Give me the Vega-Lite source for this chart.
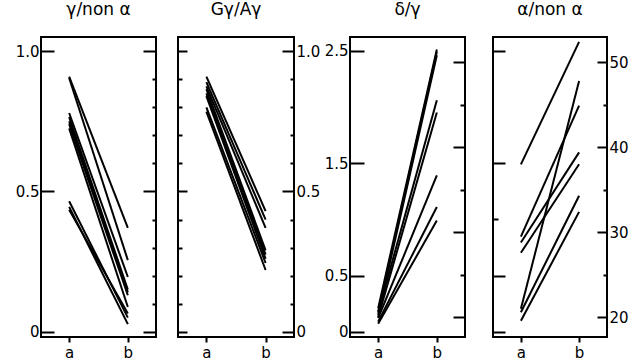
{
  "$schema": "https://vega.github.io/schema/vega-lite/v6.json",
  "background": "white",
  "padding": {"left": 14, "top": 0, "right": 5, "bottom": 0},
  "spacing": 2,
  "datasets": {
    "p1": [
      {"id": 1, "g": "a", "v": 0.91}, {"id": 1, "g": "b", "v": 0.37},
      {"id": 2, "g": "a", "v": 0.905}, {"id": 2, "g": "b", "v": 0.255},
      {"id": 3, "g": "a", "v": 0.78}, {"id": 3, "g": "b", "v": 0.195},
      {"id": 4, "g": "a", "v": 0.765}, {"id": 4, "g": "b", "v": 0.15},
      {"id": 5, "g": "a", "v": 0.75}, {"id": 5, "g": "b", "v": 0.14},
      {"id": 6, "g": "a", "v": 0.74}, {"id": 6, "g": "b", "v": 0.13},
      {"id": 7, "g": "a", "v": 0.725}, {"id": 7, "g": "b", "v": 0.088},
      {"id": 8, "g": "a", "v": 0.465}, {"id": 8, "g": "b", "v": 0.05},
      {"id": 9, "g": "a", "v": 0.445}, {"id": 9, "g": "b", "v": 0.027},
      {"id": 10, "g": "a", "v": 0.435}, {"id": 10, "g": "b", "v": 0.065}
    ],
    "p2": [
      {"id": 1, "g": "a", "v": 0.91}, {"id": 1, "g": "b", "v": 0.43},
      {"id": 2, "g": "a", "v": 0.89}, {"id": 2, "g": "b", "v": 0.4},
      {"id": 3, "g": "a", "v": 0.875}, {"id": 3, "g": "b", "v": 0.37},
      {"id": 4, "g": "a", "v": 0.865}, {"id": 4, "g": "b", "v": 0.29},
      {"id": 5, "g": "a", "v": 0.85}, {"id": 5, "g": "b", "v": 0.275},
      {"id": 6, "g": "a", "v": 0.84}, {"id": 6, "g": "b", "v": 0.26},
      {"id": 7, "g": "a", "v": 0.8}, {"id": 7, "g": "b", "v": 0.245},
      {"id": 8, "g": "a", "v": 0.785}, {"id": 8, "g": "b", "v": 0.22}
    ],
    "p3": [
      {"id": 1, "g": "a", "v": 0.21}, {"id": 1, "g": "b", "v": 2.51},
      {"id": 2, "g": "a", "v": 0.18}, {"id": 2, "g": "b", "v": 2.49},
      {"id": 3, "g": "a", "v": 0.15}, {"id": 3, "g": "b", "v": 2.46},
      {"id": 4, "g": "a", "v": 0.17}, {"id": 4, "g": "b", "v": 2.06},
      {"id": 5, "g": "a", "v": 0.13}, {"id": 5, "g": "b", "v": 1.95},
      {"id": 6, "g": "a", "v": 0.12}, {"id": 6, "g": "b", "v": 1.39},
      {"id": 7, "g": "a", "v": 0.09}, {"id": 7, "g": "b", "v": 1.11},
      {"id": 8, "g": "a", "v": 0.07}, {"id": 8, "g": "b", "v": 0.99}
    ],
    "p4": [
      {"id": 1, "g": "a", "v": 38.0}, {"id": 1, "g": "b", "v": 52.4},
      {"id": 2, "g": "a", "v": 21.0}, {"id": 2, "g": "b", "v": 47.8},
      {"id": 3, "g": "a", "v": 29.5}, {"id": 3, "g": "b", "v": 44.9},
      {"id": 4, "g": "a", "v": 28.8}, {"id": 4, "g": "b", "v": 39.4},
      {"id": 5, "g": "a", "v": 27.6}, {"id": 5, "g": "b", "v": 38.0},
      {"id": 6, "g": "a", "v": 20.6}, {"id": 6, "g": "b", "v": 34.3},
      {"id": 7, "g": "a", "v": 19.6}, {"id": 7, "g": "b", "v": 32.4}
    ]
  },
  "hconcat": [
    {
      "width": 115, "height": 300,
      "title": "γ/non α",
      "data": {"name": "p1"},
      "layer": [
        {
          "mark": {"type": "line", "color": "black", "strokeWidth": 2},
          "encoding": {
            "x": {"field": "g", "type": "nominal", "scale": {"type": "point", "padding": 0.48},
                  "axis": {"title": null, "labelAngle": 0, "tickSize": 5, "labelPadding": 3}},
            "y": {"field": "v", "type": "quantitative", "scale": {"domain": [-0.019, 1.051], "nice": false, "zero": false},
                  "axis": {"orient": "left", "title": null, "values": [0, 0.5, 1], "tickSize": -13, "labelPadding": 15,
                           "labelExpr": "datum.value == 0 ? '0' : format(datum.value, '.1f')"}},
            "detail": {"field": "id"}
          }
        },
        {
          "mark": {"type": "rule", "opacity": 0},
          "encoding": {
            "y": {"datum": 0, "type": "quantitative", "scale": {"domain": [-0.019, 1.051], "nice": false, "zero": false},
                  "axis": {"orient": "right", "title": null, "labels": false,
                           "values": [0, 0.1, 0.2, 0.3, 0.4, 0.5, 0.6, 0.7, 0.8, 0.9, 1.0],
                           "tickSize": {"condition": {"test": "abs(datum.value*2 - round(datum.value*2)) < 0.01", "value": -13}, "value": -4},
                           "minExtent": 8.6}}
          }
        }
      ],
      "resolve": {"axis": {"y": "independent"}}
    },
    {
      "width": 116, "height": 300,
      "title": "Gγ/Aγ",
      "data": {"name": "p2"},
      "layer": [
        {
          "mark": {"type": "line", "color": "black", "strokeWidth": 2},
          "encoding": {
            "x": {"field": "g", "type": "nominal", "scale": {"type": "point", "padding": 0.48},
                  "axis": {"title": null, "labelAngle": 0, "tickSize": 5, "labelPadding": 3}},
            "y": {"field": "v", "type": "quantitative", "scale": {"domain": [-0.019, 1.051], "nice": false, "zero": false},
                  "axis": {"orient": "left", "title": null, "labels": false,
                           "values": [0, 0.1, 0.2, 0.3, 0.4, 0.5, 0.6, 0.7, 0.8, 0.9, 1.0],
                           "tickSize": {"condition": {"test": "abs(datum.value*2 - round(datum.value*2)) < 0.01", "value": -9}, "value": -4},
                           "minExtent": 8.6}},
            "detail": {"field": "id"}
          }
        },
        {
          "mark": {"type": "rule", "opacity": 0},
          "encoding": {
            "y": {"datum": 0, "type": "quantitative", "scale": {"domain": [-0.019, 1.051], "nice": false, "zero": false},
                  "axis": {"orient": "right", "title": null,
                           "values": [0, 0.1, 0.2, 0.3, 0.4, 0.5, 0.6, 0.7, 0.8, 0.9, 1.0],
                           "tickSize": {"condition": {"test": "abs(datum.value*2 - round(datum.value*2)) < 0.01", "value": -12}, "value": -4},
                           "labelPadding": 14, "minExtent": 0,
                           "labelExpr": "abs(datum.value*2 - round(datum.value*2)) < 0.01 ? (datum.value == 0 ? '0' : format(datum.value, '.1f')) : ''"}}
          }
        }
      ],
      "resolve": {"axis": {"y": "independent"}}
    },
    {
      "width": 115, "height": 300,
      "title": "δ/γ",
      "data": {"name": "p3"},
      "layer": [
        {
          "mark": {"type": "line", "color": "black", "strokeWidth": 2},
          "encoding": {
            "x": {"field": "g", "type": "nominal", "scale": {"type": "point", "padding": 0.48},
                  "axis": {"title": null, "labelAngle": 0, "tickSize": 5, "labelPadding": 3}},
            "y": {"field": "v", "type": "quantitative", "scale": {"domain": [-0.047, 2.622], "nice": false, "zero": false},
                  "axis": {"orient": "left", "title": null, "values": [0, 0.5, 1.5, 2.5], "tickSize": -14, "labelPadding": 16,
                           "minExtent": 0,
                           "labelExpr": "datum.value == 0 ? '0' : format(datum.value, '.1f')"}},
            "detail": {"field": "id"}
          }
        },
        {
          "mark": {"type": "rule", "opacity": 0},
          "encoding": {
            "y": {"datum": 20, "type": "quantitative", "scale": {"domain": [17.68, 52.98], "nice": false, "zero": false},
                  "axis": {"orient": "right", "title": null, "labels": false,
                           "values": [20, 25, 30, 35, 40, 45, 50],
                           "tickSize": {"condition": {"test": "datum.value % 10 == 0", "value": -12}, "value": -5},
                           "minExtent": 11.6}}
          }
        }
      ],
      "resolve": {"scale": {"y": "independent"}, "axis": {"y": "independent"}}
    },
    {
      "width": 114, "height": 300,
      "title": "α/non α",
      "data": {"name": "p4"},
      "layer": [
        {
          "mark": {"type": "line", "color": "black", "strokeWidth": 2},
          "encoding": {
            "x": {"field": "g", "type": "nominal", "scale": {"type": "point", "padding": 0.48},
                  "axis": {"title": null, "labelAngle": 0, "tickSize": 5, "labelPadding": 3}},
            "y": {"field": "v", "type": "quantitative", "scale": {"domain": [17.68, 52.98], "nice": false, "zero": false},
                  "axis": {"orient": "right", "title": null,
                           "values": [20, 25, 30, 35, 40, 45, 50],
                           "tickSize": {"condition": {"test": "datum.value % 10 == 0", "value": -10}, "value": -4},
                           "labelPadding": 12,
                           "labelExpr": "datum.value % 10 == 0 ? format(datum.value, 'd') : ''"}},
            "detail": {"field": "id"}
          }
        },
        {
          "mark": {"type": "rule", "opacity": 0},
          "encoding": {
            "y": {"datum": 0, "type": "quantitative", "scale": {"domain": [-0.047, 2.622], "nice": false, "zero": false},
                  "axis": {"orient": "left", "title": null, "labels": false,
                           "values": [0, 0.5, 1, 1.5, 2.5],
                           "tickSize": {"condition": {"test": "datum.value == 1", "value": -5}, "value": -12},
                           "minExtent": 11.6}}
          }
        }
      ],
      "resolve": {"scale": {"y": "independent"}, "axis": {"y": "independent"}}
    }
  ],
  "config": {
    "font": "DejaVu Sans",
    "view": {"stroke": "black", "strokeWidth": 2},
    "axis": {"labelFont": "DejaVu Sans", "labelFontSize": 15, "labelColor": "black", "tickColor": "black",
             "tickWidth": 2, "grid": false, "domain": false},
    "title": {"font": "DejaVu Sans", "fontSize": 17, "fontWeight": "normal", "color": "black", "offset": 18}
  }
}
